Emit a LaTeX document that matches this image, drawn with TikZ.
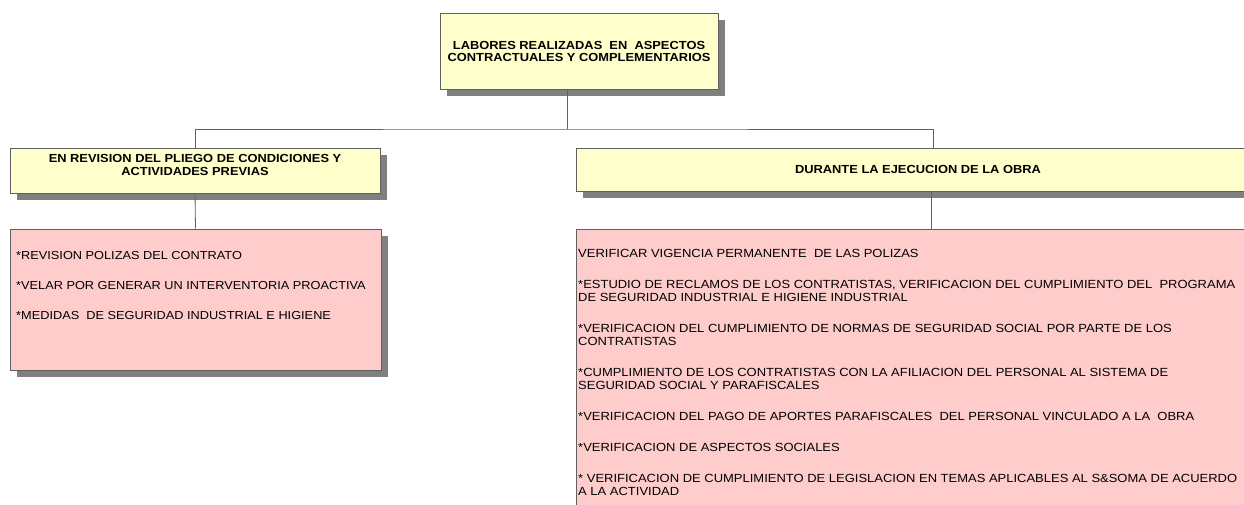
\documentclass[tikz,border=0pt]{standalone}
\usepackage{fontspec}
\setmainfont{Liberation Sans}
\newfontfamily\wideF[FakeStretch=1.1]{Liberation Sans}
\usetikzlibrary{shadows}
\definecolor{boxY}{RGB}{255,255,204}
\definecolor{boxP}{RGB}{255,204,204}
\definecolor{edge}{RGB}{96,96,96}
\definecolor{shad}{RGB}{128,128,128}
\begin{document}
\begin{tikzpicture}[x=1pt,y=-1pt,
  box/.style={draw=edge, line width=0.8pt, inner sep=0pt,
    drop shadow={shadow xshift=7pt, shadow yshift=-7pt, fill=shad, opacity=1}},
  ybox/.style={box, fill=boxY},
  pbox/.style={box, fill=boxP},
  conn/.style={draw=edge, line width=0.8pt},
  head/.style={font=\wideF\bfseries\fontsize{11.7}{12}\selectfont, align=center},
  ltxt/.style={font=\wideF\fontsize{11.6}{12}\selectfont, anchor=base west, inner sep=0pt},
  rtxt/.style={font=\wideF\fontsize{11.8}{13}\selectfont, anchor=north west, inner sep=0pt, align=left}]
\useasboundingbox (0,0) rectangle (1244,504);
\fill[white] (0,0) rectangle (1244,504);
\clip (0,0) rectangle (1244,504);

% boxes
\node[ybox, head, minimum width=278pt, minimum height=76pt] (top) at (579,51)
  {LABORES REALIZADAS~ EN~ ASPECTOS\\CONTRACTUALES Y COMPLEMENTARIOS};
\node[ybox, minimum width=370pt, minimum height=45pt] (ly) at (195,170.5) {};
\node[head, inner sep=0pt, align=center] (lyt) at (195,165)
  {EN REVISION DEL PLIEGO DE CONDICIONES Y\\[1.7pt]ACTIVIDADES PREVIAS};
\node[ybox, head, minimum width=684pt, minimum height=43pt] (ry) at (918,169.5)
  {DURANTE LA EJECUCION DE LA OBRA};
\node[pbox, minimum width=371pt, minimum height=141pt] (lp) at (195.5,299.5) {};
\node[pbox, minimum width=684pt, minimum height=311pt] (rp) at (918,384.5) {};

% connectors
\coordinate (bus) at (567,129);
\draw[conn] ([xshift=-12pt]top.south) -- (bus);
\draw[conn] (ly.north) |- (bus) -| ([xshift=15pt]ry.north);
\draw[conn] (ly.south) -- (lp.north);
\draw[conn] ([xshift=13pt]ry.south) -- ([xshift=13pt]rp.north);

% left list
\node[ltxt] (l1) at (16,259.2) {*REVISION POLIZAS DEL CONTRATO};
\node[ltxt] (l2) at (16,289.2) {*VELAR POR GENERAR UN INTERVENTORIA PROACTIVA};
\node[ltxt] (l3) at (16,319.2) {*MEDIDAS~ DE SEGURIDAD INDUSTRIAL E HIGIENE};

% right list
\node[rtxt] (r1) at (578,248.7) {VERIFICAR VIGENCIA PERMANENTE~ DE LAS POLIZAS};
\node[rtxt] (r2) at (578,279.7) {*ESTUDIO DE RECLAMOS DE LOS CONTRATISTAS, VERIFICACION DEL CUMPLIMIENTO DEL~ PROGRAMA\\DE SEGURIDAD INDUSTRIAL E HIGIENE INDUSTRIAL};
\node[rtxt] (r3) at (578,323.7) {*VERIFICACION DEL CUMPLIMIENTO DE NORMAS DE SEGURIDAD SOCIAL POR PARTE DE LOS\\CONTRATISTAS};
\node[rtxt] (r4) at (578,367.7) {*CUMPLIMIENTO DE LOS CONTRATISTAS CON LA AFILIACION DEL PERSONAL AL SISTEMA DE\\SEGURIDAD SOCIAL Y PARAFISCALES};
\node[rtxt] (r5) at (578,411.7) {*VERIFICACION DEL PAGO DE APORTES PARAFISCALES~ DEL PERSONAL VINCULADO A LA~ OBRA};
\node[rtxt] (r6) at (578,442.7) {*VERIFICACION DE ASPECTOS SOCIALES};
\node[rtxt] (r7) at (578,473.7) {*~VERIFICACION DE CUMPLIMIENTO DE LEGISLACION EN TEMAS APLICABLES AL S\&SOMA DE ACUERDO\\A LA ACTIVIDAD};
\end{tikzpicture}
\end{document}
